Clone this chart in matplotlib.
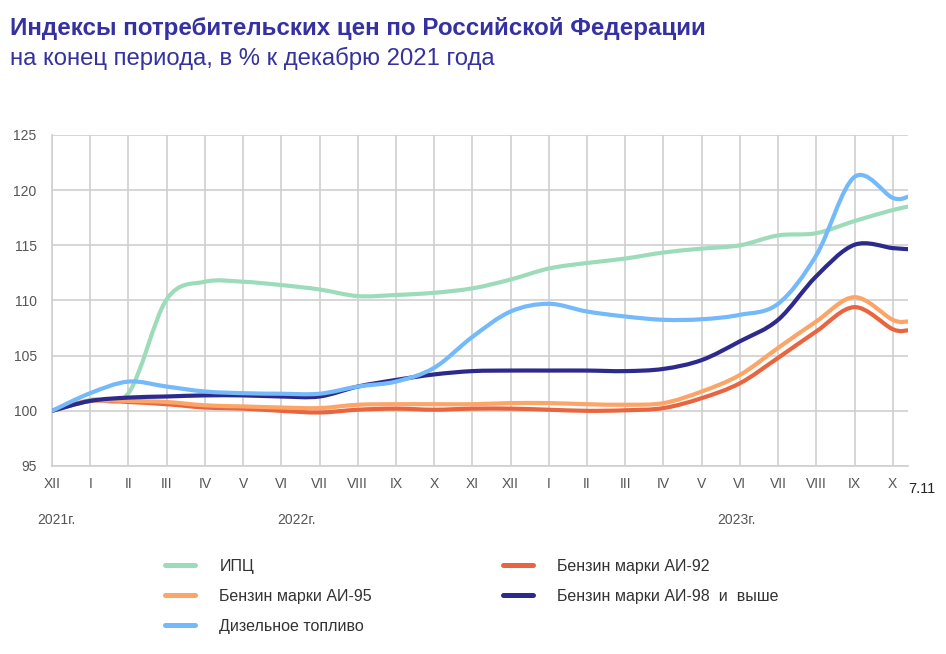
import matplotlib.pyplot as plt
from matplotlib.path import Path
from matplotlib.patches import PathPatch
from matplotlib.lines import Line2D

plt.rcParams['font.family'] = ['Liberation Sans', 'DejaVu Sans']

# подписи месяцев (XII 2021 ... X 2023) и последняя точка 7.11
months = ['XII', 'I', 'II', 'III', 'IV', 'V', 'VI', 'VII', 'VIII', 'IX', 'X', 'XI',
          'XII', 'I', 'II', 'III', 'IV', 'V', 'VI', 'VII', 'VIII', 'IX', 'X']
x_pos = list(range(len(months))) + [22.4]
last_label = '7.11'
years = ['2021г.', '2022г.', '2023г.']
year_pos = [0.12, 6.4, 17.9]

# индексы, % к декабрю 2021
cpi = [100, 101.0, 101.6, 110.1, 111.7, 111.7, 111.4, 111.0, 110.4, 110.5, 110.7, 111.1,
       111.9, 112.9, 113.4, 113.8, 114.35, 114.7, 115.0, 115.9, 116.1, 117.2, 118.2, 118.5]
ai92 = [100, 100.9, 100.8, 100.6, 100.3, 100.2, 100.0, 99.85, 100.1, 100.2, 100.1, 100.2,
        100.2, 100.1, 100.0, 100.05, 100.25, 101.15, 102.5, 104.8, 107.2, 109.4, 107.4, 107.3]
ai95 = [100, 100.9, 100.9, 100.8, 100.5, 100.4, 100.3, 100.25, 100.55, 100.6, 100.6, 100.6,
        100.7, 100.7, 100.6, 100.55, 100.7, 101.75, 103.25, 105.7, 108.1, 110.3, 108.25, 108.1]
ai98 = [100, 100.9, 101.2, 101.3, 101.4, 101.4, 101.3, 101.3, 102.2, 102.8, 103.3, 103.6,
        103.65, 103.65, 103.65, 103.6, 103.8, 104.6, 106.3, 108.25, 112.2, 115.05, 114.75, 114.65]
diesel = [100, 101.6, 102.65, 102.2, 101.75, 101.6, 101.55, 101.55, 102.2, 102.65, 103.9, 106.7,
          109.0, 109.7, 109.0, 108.55, 108.25, 108.3, 108.7, 109.7, 114.1, 121.2, 119.3, 119.4]

series = [
    ('ИПЦ', cpi, '#9ddcbb'),
    ('Бензин марки АИ-92', ai92, '#e8653f'),
    ('Бензин марки АИ-95', ai95, '#fda467'),
    ('Бензин марки АИ-98  и  выше', ai98, '#2d2a8e'),
    ('Дизельное топливо', diesel, '#74b9f9'),
]


def smooth_path(xs, ys):
    # сглаженная линия как в Excel: кривые Безье по точкам (Catmull-Rom)
    pts = list(zip(xs, ys))
    verts = [pts[0]]
    codes = [Path.MOVETO]
    n = len(pts)
    for i in range(n - 1):
        p0 = pts[i - 1] if i > 0 else pts[i]
        p1 = pts[i]
        p2 = pts[i + 1]
        p3 = pts[i + 2] if i + 2 < n else pts[i + 1]
        c1 = (p1[0] + (p2[0] - p0[0]) / 6, p1[1] + (p2[1] - p0[1]) / 6)
        c2 = (p2[0] - (p3[0] - p1[0]) / 6, p2[1] - (p3[1] - p1[1]) / 6)
        verts += [c1, c2, p2]
        codes += [Path.CURVE4] * 3
    return Path(verts, codes)


fig = plt.figure(figsize=(9.46, 6.54), dpi=100)
ax = fig.add_axes([52 / 946, 1 - 466 / 654, 856 / 946, 331 / 654])

handles = []
for i, (name, vals, col) in enumerate(series):
    ax.add_patch(PathPatch(smooth_path(x_pos, vals), fill=False, edgecolor=col,
                           lw=3.0, capstyle='round', joinstyle='round',
                           transform=ax.transData, zorder=3 + i))
    handles.append(Line2D([], [], color=col, lw=3.6, solid_capstyle='round'))

ax.set_xlim(0, 22.4)
ax.set_ylim(95, 125)
ax.set_yticks(range(95, 126, 5))
ax.set_xticks(range(len(months)))
ax.set_xticklabels(months)
ax.grid(True, color='#cfcfcf', lw=1.2)
ax.set_axisbelow(True)
for s in ['top', 'right']:
    ax.spines[s].set_visible(False)
for s in ['left', 'bottom']:
    ax.spines[s].set_color('#cfcfcf')
    ax.spines[s].set_linewidth(1.2)
ax.tick_params(axis='both', length=0, colors='#555555', labelsize=10)
ax.tick_params(axis='y', pad=11)
ax.tick_params(axis='x', pad=8)

ax.text(22.4, -0.048, last_label, transform=ax.get_xaxis_transform(), ha='left', va='top',
        fontsize=10.5, color='#222222')
for yl, yp in zip(years, year_pos):
    ax.text(yp, -0.163, yl, transform=ax.get_xaxis_transform(), ha='center', va='center',
            fontsize=10, color='#555555')

fig.text(10 / 946, 1 - 29 / 654, 'Индексы потребительских цен по Российской Федерации',
         fontsize=17.4, fontweight='bold', color='#3531a0', va='center')
fig.text(10 / 946, 1 - 58 / 654, 'на конец периода, в % к декабрю 2021 года',
         fontsize=17.2, color='#3531a0', va='center')

order = [0, 2, 4, 1, 3]
fig.legend([handles[k] for k in order], [series[k][0] for k in order],
           loc='upper left', bbox_to_anchor=(165 / 946, 1 - 559 / 654), ncol=2,
           frameon=False, fontsize=11.5, handlelength=1.9, handletextpad=1.5,
           labelspacing=0.94, columnspacing=8.2, borderpad=0, borderaxespad=0,
           labelcolor='#333333')

fig.savefig('out.png', dpi=100)
